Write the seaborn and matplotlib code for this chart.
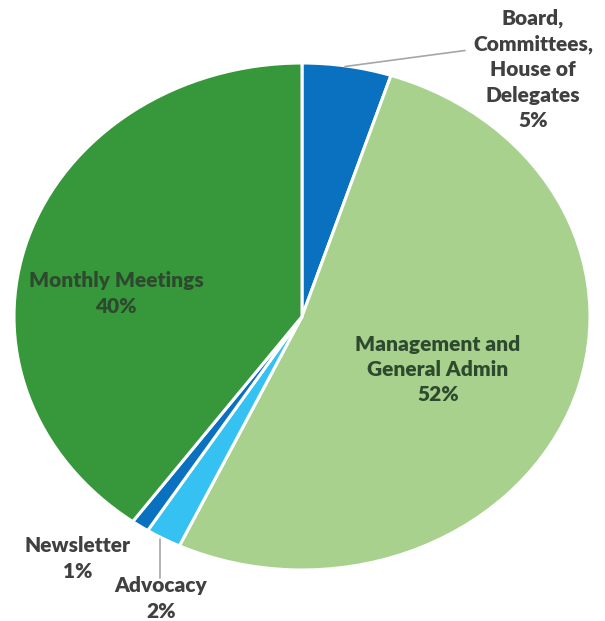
import numpy as np
import matplotlib
matplotlib.use("Agg")
import matplotlib.pyplot as plt
import seaborn as sns

# data
categories = ["Board,\nCommittees,\nHouse of\nDelegates", "Management and\nGeneral Admin",
              "Advocacy", "Newsletter", "Monthly Meetings"]
shares = [5, 52, 2, 1, 40]
colors = ["#0A70C0", "#A9D18E", "#35C2F2", "#0A70C0", "#36983A"]

sns.set_theme(style="white")
plt.rcParams["font.family"] = ["Lato", "DejaVu Sans"]

fig = plt.figure(figsize=(6.05, 6.21), dpi=100)
# axes box spans the (slightly elliptical) pie
ax = fig.add_axes([14 / 605, 51 / 621, 576 / 605, 507 / 621])

wedges, _ = ax.pie(shares, colors=colors, startangle=90, counterclock=False,
                   wedgeprops=dict(edgecolor="white", linewidth=2.2), radius=1)
ax.set_aspect("auto")
ax.set_xlim(-1, 1)
ax.set_ylim(-1, 1)
ax.axis("off")

txt = dict(fontsize=15, fontweight="heavy", color="#404040", ha="center", va="center",
           linespacing=1.4)
inner = dict(txt, color="#2E4A2E")


def px(x, y):
    # pixel position in the image -> data coords of the axes
    return ((x - 302) / 288, (316 - y) / 253.5)


labels = [f"{c}\n{v}%" for c, v in zip(categories, shares)]

ax.text(*px(116, 293), labels[4], clip_on=False, **inner)
ax.text(*px(438, 369), labels[1], clip_on=False, **inner)
ax.text(*px(533, 69), labels[0], clip_on=False, **txt)
ax.text(*px(78, 558), labels[3], clip_on=False, **txt)
ax.text(*px(161, 598), labels[2], clip_on=False, **txt)

# leader lines
x0, y0 = px(345, 66)
x1, y1 = px(465, 50)
ax.plot([x0, x1], [y0, y1], color="#A6A6A6", lw=1.2, clip_on=False)
x0, y0 = px(160, 538)
x1, y1 = px(160, 577)
ax.plot([x0, x1], [y0, y1], color="#A6A6A6", lw=1.2, clip_on=False)

fig.savefig("out.png", dpi=100, facecolor="white")
